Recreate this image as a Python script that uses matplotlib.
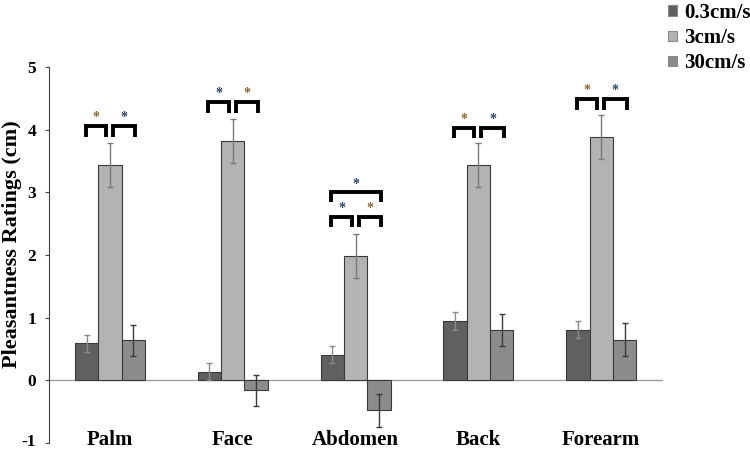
import matplotlib.pyplot as plt
import matplotlib.transforms as mtransforms
import numpy as np
from matplotlib.patches import Patch

plt.rcParams["font.family"] = ["Liberation Serif", "DejaVu Serif"]
plt.rcParams["font.weight"] = "bold"
plt.rcParams["axes.unicode_minus"] = False

sites = ["Palm", "Face", "Abdomen", "Back", "Forearm"]
speeds = ["0.3cm/s", "3cm/s", "30cm/s"]

slow_mean = [0.59, 0.14, 0.41, 0.95, 0.81]
slow_err = [0.14, 0.14, 0.14, 0.14, 0.14]
mid_mean = [3.44, 3.82, 1.98, 3.43, 3.88]
mid_err = [0.35, 0.35, 0.35, 0.35, 0.35]
fast_mean = [0.64, -0.16, -0.48, 0.80, 0.65]
fast_err = [0.25, 0.25, 0.26, 0.26, 0.26]

# bracket heights (top of bracket) per site
bracket_top = [4.06, 4.44, 2.61, 4.03, 4.49]
big_bracket_top = 3.0  # abdomen 0.3 vs 30
star_left_color = ["#8a6a2a", "#24456e", "#24456e", "#8a6a2a", "#8a6a2a"]
star_right_color = ["#24456e", "#8a6a2a", "#8a6a2a", "#24456e", "#24456e"]

colors = ["#606060", "#b3b3b3", "#8c8c8c"]
err_colors = ["#8a8a8a", "#7a7a7a", "#3a3a3a"]

fig = plt.figure(figsize=(7.5, 4.5), dpi=100)
ax = fig.add_axes([0.0648, 0.0156, 0.8187, 0.8356])

x = np.arange(len(sites))
w = 0.19
means = [slow_mean, mid_mean, fast_mean]
errs = [slow_err, mid_err, fast_err]
for i in range(3):
    ax.bar(x + (i - 1) * w, means[i], w, color=colors[i], edgecolor="#3a3a3a",
           linewidth=0.8, label=speeds[i], zorder=2)
    ax.errorbar(x + (i - 1) * w, means[i], yerr=errs[i], fmt="none",
                ecolor=err_colors[i], elinewidth=1, capsize=2, capthick=1, zorder=3)

ax.axhline(0, color="#a0a0a0", linewidth=1, zorder=1)

px = 1 / 122.8
leg = 0.17
lw = 2.8
for k in range(len(sites)):
    c0, c1, c2 = x[k] - w, x[k], x[k] + w
    top = bracket_top[k]
    for (a, b, col) in [(c0 - 1 * px, c1 - 4 * px, star_left_color[k]),
                        (c1 + 3 * px, c2 + 2 * px, star_right_color[k])]:
        ax.plot([a, a, b, b], [top - leg, top, top, top - leg], color="black",
                linewidth=lw, solid_joinstyle="miter", solid_capstyle="butt", zorder=4)
        ax.text((a + b) / 2, top + 0.03, "*", ha="center", va="bottom",
                fontsize=10, color=col)
    if sites[k] == "Abdomen":
        a, b = c0 - 1 * px, c2 + 2 * px
        ax.plot([a, a, b, b], [big_bracket_top - 0.15, big_bracket_top, big_bracket_top,
                               big_bracket_top - 0.15], color="black", linewidth=lw,
                solid_joinstyle="miter", solid_capstyle="butt", zorder=4)
        ax.text((a + b) / 2, big_bracket_top + 0.02, "*", ha="center", va="bottom",
                fontsize=10, color="#24456e")

ax.set_xlim(-0.5, 4.5)
ax.set_ylim(-1, 5)
ax.set_yticks([-1, 0, 1, 2, 3, 4, 5])
ax.set_xticks(x)
ax.set_xticklabels(sites, fontsize=15, fontweight="bold")
for lab in ax.get_xticklabels():
    lab.set_verticalalignment("center")
ax.tick_params(axis="x", length=0, pad=-2)
ax.tick_params(axis="y", length=3, width=0.8, color="#404040", labelsize=12.5, pad=6)
for s in ["top", "right", "bottom"]:
    ax.spines[s].set_visible(False)
ax.spines["left"].set_color("#404040")
ax.spines["left"].set_linewidth(0.8)

# nudge the bottom tick label so it stays inside the figure
low = ax.get_yticklabels()[0]
low.set_transform(low.get_transform()
                  + mtransforms.ScaledTranslation(0, 2 / 72, fig.dpi_scale_trans))

ax.set_ylabel("Pleasantness Ratings (cm)", fontsize=16, fontweight="bold")
ax.yaxis.set_label_coords(-0.044, 0.53)

handles = [Patch(facecolor=colors[i], edgecolor="#888888", linewidth=0.8) for i in range(3)]
ax.legend(handles, speeds, loc="upper left", bbox_to_anchor=(0.866, 1.035),
          bbox_transform=fig.transFigure, frameon=False, fontsize=15,
          handlelength=0.4, handleheight=0.4, handletextpad=0.35, labelspacing=0.25)

fig.savefig("out.png", dpi=100)
